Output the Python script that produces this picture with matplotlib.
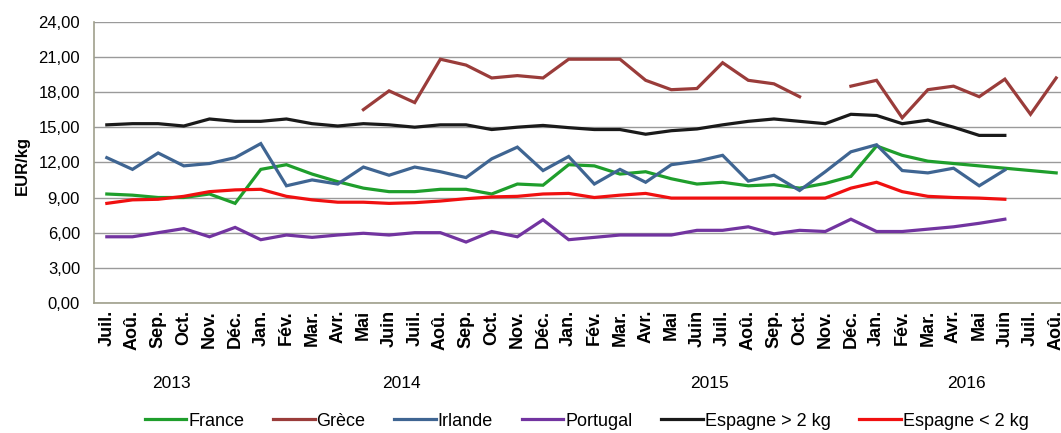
import numpy as np
import matplotlib
matplotlib.use("Agg")
import matplotlib.pyplot as plt
from matplotlib.transforms import blended_transform_factory

nan = np.nan

months = ["Juil.", "Aoû.", "Sep.", "Oct.", "Nov.", "Déc.",
          "Jan.", "Fév.", "Mar.", "Avr.", "Mai", "Juin", "Juil.", "Aoû.", "Sep.", "Oct.", "Nov.", "Déc.",
          "Jan.", "Fév.", "Mar.", "Avr.", "Mai", "Juin", "Juil.", "Aoû.", "Sep.", "Oct.", "Nov.", "Déc.",
          "Jan.", "Fév.", "Mar.", "Avr.", "Mai", "Juin", "Juil.", "Aoû."]
years = ["2013", "2014", "2015", "2016"]
year_months = [6, 12, 12, 8]

france = [9.3, 9.2, 9.0, 9.0, 9.3, 8.5,
          11.4, 11.8, 11.0, 10.35, 9.8, 9.5, 9.5, 9.7, 9.7, 9.3, 10.15, 10.05,
          11.8, 11.7, 11.0, 11.2, 10.6, 10.15, 10.3, 10.0, 10.1, 9.8, 10.2, 10.8,
          13.4, 12.6, 12.1, 11.9, 11.7, 11.5, 11.3, 11.1]
grece = [nan, nan, nan, nan, nan, nan,
         nan, nan, nan, nan, 16.5, 18.1, 17.1, 20.8, 20.3, 19.2, 19.4, 19.2,
         20.8, 20.8, 20.8, 19.0, 18.2, 18.3, 20.5, 19.0, 18.7, 17.6, nan, 18.5,
         19.0, 15.8, 18.2, 18.5, 17.6, 19.1, 16.1, 19.2]
irlande = [12.4, 11.4, 12.8, 11.7, 11.9, 12.4,
           13.6, 10.0, 10.5, 10.15, 11.6, 10.9, 11.6, 11.2, 10.7, 12.3, 13.3, 11.3,
           12.5, 10.15, 11.4, 10.3, 11.8, 12.1, 12.6, 10.4, 10.9, 9.6, 11.2, 12.9,
           13.5, 11.3, 11.1, 11.5, 10.0, 11.35, nan, nan]
portugal = [5.65, 5.65, 6.0, 6.35, 5.65, 6.45,
            5.4, 5.8, 5.6, 5.8, 5.95, 5.8, 6.0, 6.0, 5.2, 6.1, 5.65, 7.1,
            5.4, 5.6, 5.8, 5.8, 5.8, 6.2, 6.2, 6.5, 5.9, 6.2, 6.1, 7.15,
            6.1, 6.1, 6.3, 6.5, 6.8, 7.15, nan, nan]
espagne_gros = [15.2, 15.3, 15.3, 15.1, 15.7, 15.5,
                15.5, 15.7, 15.3, 15.1, 15.3, 15.2, 15.0, 15.2, 15.2, 14.8, 15.0, 15.15,
                14.96, 14.8, 14.8, 14.4, 14.7, 14.85, 15.2, 15.5, 15.7, 15.5, 15.3, 16.1,
                16.0, 15.3, 15.6, 15.0, 14.3, 14.3, nan, nan]
espagne_petit = [8.5, 8.8, 8.85, 9.1, 9.5, 9.65,
                 9.7, 9.1, 8.8, 8.6, 8.6, 8.5, 8.56, 8.7, 8.9, 9.05, 9.1, 9.3,
                 9.35, 9.0, 9.2, 9.35, 8.95, 8.95, 8.95, 8.95, 8.95, 8.95, 8.95, 9.8,
                 10.3, 9.5, 9.1, 9.0, 8.95, 8.85, nan, nan]

series = [
    ("France", france, "#1f9e2c"),
    ("Grèce", grece, "#9a3c3a"),
    ("Irlande", irlande, "#3f6592"),
    ("Portugal", portugal, "#7234a0"),
    ("Espagne > 2 kg", espagne_gros, "#1a1a1a"),
    ("Espagne < 2 kg", espagne_petit, "#f01010"),
]

plt.rcParams["font.family"] = ["Liberation Sans", "DejaVu Sans"]

fig = plt.figure(figsize=(10.61, 4.33), dpi=100)
ax = fig.add_axes([94 / 1061, 130 / 433, 975 / 1061, 281.3 / 433])

x = np.arange(len(months))
for name, vals, col in series:
    ax.plot(x, vals, color=col, lw=2.3, label=name, solid_joinstyle="miter")

ax.set_xlim(-0.5, len(months) - 0.5)
ax.set_ylim(0, 24)
ax.set_yticks(np.arange(0, 25, 3))
ax.set_yticklabels([f"{v:.2f}".replace(".", ",") for v in np.arange(0, 25, 3)], fontsize=12)
ax.set_xticks(x)
ax.set_xticklabels(months, rotation=90, fontsize=13, fontweight="bold", va="top")
ax.tick_params(length=0, pad=5)
ax.tick_params(axis="y", pad=10)

ax.grid(axis="y", color="#9a9a9a", lw=1)
ax.set_axisbelow(True)
for s in ["top", "right"]:
    ax.spines[s].set_visible(False)
for s in ["left", "bottom"]:
    ax.spines[s].set_color("#a0a08c")
    ax.spines[s].set_linewidth(1.2)

ax.set_ylabel("EUR/kg", fontsize=12, fontweight="bold")
ax.yaxis.set_label_coords(-64 / 975, 0.49)

# year captions centred under each group of months
trans = blended_transform_factory(ax.transData, ax.transAxes)
start = 0
for yr, n in zip(years, year_months):
    ax.text(start + (n - 1) / 2, -0.285, yr, transform=trans, ha="center", va="center", fontsize=12.5)
    start += n

fig.legend(loc="lower center", bbox_to_anchor=(0.553, -0.03), ncol=6, frameon=False,
           fontsize=13, handlelength=2.3, columnspacing=1.6, handletextpad=0.1)

fig.savefig("out.png", dpi=100)
